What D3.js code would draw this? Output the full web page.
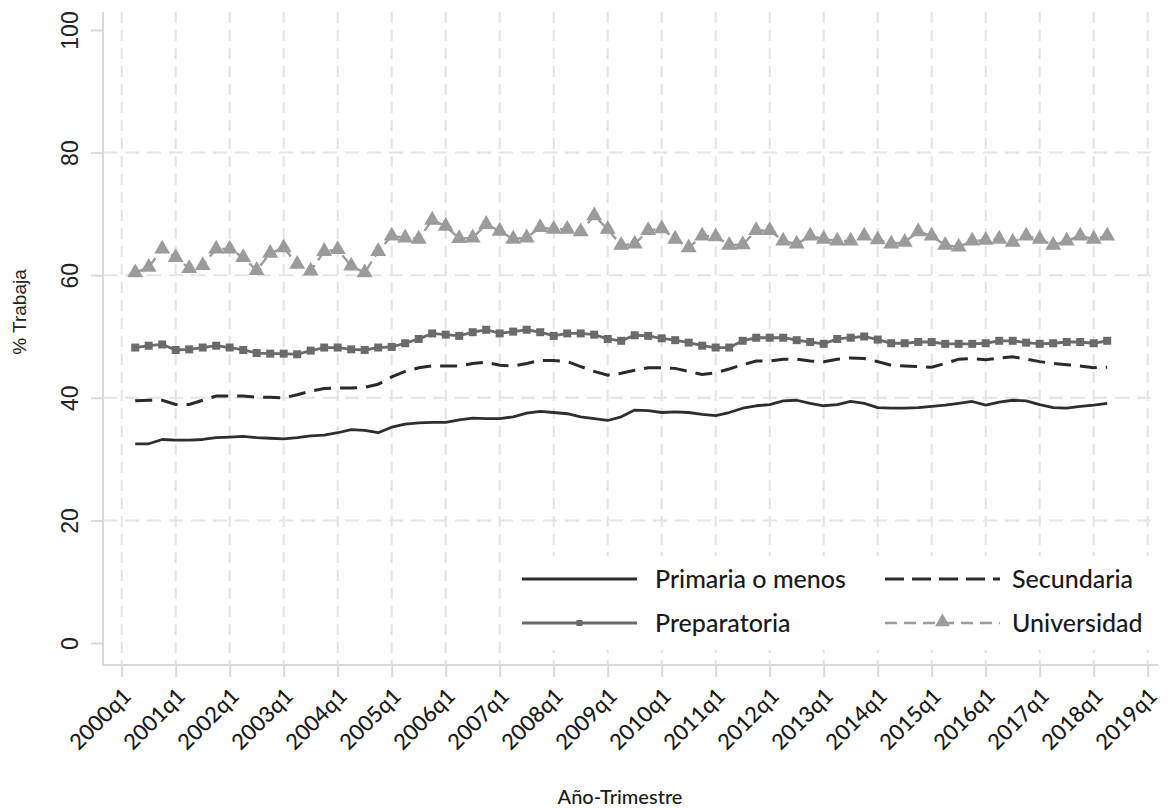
<!DOCTYPE html>
<html>
<head>
<meta charset="utf-8">
<script src="https://cdn.jsdelivr.net/npm/d3@7/dist/d3.min.js"></script>
<style>
  html, body { margin: 0; padding: 0; background: #fff; }
  svg { display: block; }
</style>
</head>
<body>
<svg id="chart" width="1168" height="809"></svg>
<script>
// ---------- DATA (quarterly, 2000q2 .. 2018q2) ----------
const startYear = 2000;
const startQuarter = 2;
const primaria = [
  32.5, 32.5, 33.2, 33.1, 33.1, 33.2, 33.5, 33.6, 33.7, 33.5, 33.4, 33.3, 33.5, 33.8, 33.9, 34.3, 34.8, 34.7, 34.3,
  35.2, 35.7, 35.9, 36.0, 36.0, 36.4, 36.7, 36.6, 36.6, 36.9, 37.5, 37.8, 37.6, 37.4, 36.9, 36.6, 36.3,
  36.9, 38.0, 37.9, 37.6, 37.7, 37.6, 37.3, 37.1, 37.6, 38.3, 38.7, 38.9, 39.5, 39.6, 39.1, 38.7, 38.9, 39.4,
  39.1, 38.4, 38.3, 38.3, 38.4, 38.6, 38.8, 39.1, 39.4, 38.8, 39.3, 39.6, 39.5, 38.9, 38.4, 38.3, 38.6, 38.8, 39.1
];
const secundaria = [
  39.5, 39.6, 39.6, 38.9, 38.9, 39.6, 40.3, 40.3, 40.3, 40.1, 40.1, 40.0, 40.5, 41.1, 41.5, 41.6, 41.6, 41.7, 42.2,
  43.4, 44.3, 44.9, 45.2, 45.2, 45.2, 45.6, 45.8, 45.3, 45.2, 45.6, 46.1, 46.1, 45.9, 45.1, 44.3, 43.7,
  44.0, 44.5, 44.9, 44.9, 44.8, 44.3, 43.8, 44.1, 44.7, 45.4, 46.0, 46.0, 46.3, 46.3, 46.0, 45.9, 46.3, 46.5,
  46.4, 45.9, 45.3, 45.2, 45.1, 45.0, 45.6, 46.3, 46.4, 46.2, 46.5, 46.7, 46.3, 45.9, 45.6, 45.4, 45.2, 44.9, 45.0
];
const preparatoria = [
  48.2, 48.5, 48.7, 47.8, 47.9, 48.2, 48.5, 48.2, 47.8, 47.3, 47.2, 47.2, 47.1, 47.7, 48.2, 48.2, 47.9, 47.8, 48.2,
  48.3, 48.9, 49.6, 50.5, 50.3, 50.1, 50.7, 51.1, 50.5, 50.8, 51.1, 50.7, 50.1, 50.5, 50.5, 50.3, 49.6,
  49.3, 50.2, 50.1, 49.7, 49.4, 49.0, 48.5, 48.2, 48.2, 49.3, 49.8, 49.8, 49.8, 49.4, 49.1, 48.8, 49.6, 49.8,
  50.0, 49.5, 48.9, 48.9, 49.1, 49.1, 48.8, 48.8, 48.8, 48.9, 49.3, 49.3, 49.0, 48.8, 48.9, 49.1, 49.1, 48.9, 49.3
];
const universidad = [
  60.4, 61.3, 64.3, 62.9, 61.1, 61.6, 64.3, 64.3, 62.9, 60.8, 63.6, 64.5, 61.8, 60.7, 63.9, 64.2, 61.5, 60.4, 63.9,
  66.4, 66.1, 65.9, 69.0, 68.0, 66.0, 66.1, 68.3, 67.2, 65.9, 66.1, 67.8, 67.5, 67.5, 67.1, 69.7, 67.5,
  64.9, 65.1, 67.3, 67.6, 65.9, 64.5, 66.4, 66.3, 64.9, 65.0, 67.3, 67.3, 65.6, 65.1, 66.4, 65.9, 65.6, 65.6,
  66.4, 65.8, 65.1, 65.4, 67.1, 66.4, 64.9, 64.6, 65.6, 65.7, 65.9, 65.4, 66.4, 65.9, 64.9, 65.6, 66.4, 65.9, 66.4
];
const xTickLabels = ["2000q1","2001q1","2002q1","2003q1","2004q1","2005q1","2006q1","2007q1","2008q1","2009q1",
  "2010q1","2011q1","2012q1","2013q1","2014q1","2015q1","2016q1","2017q1","2018q1","2019q1"];
const yTicks = [0, 20, 40, 60, 80, 100];
const seriesNames = ["Primaria o menos", "Secundaria", "Preparatoria", "Universidad"];
const xTitle = "Año-Trimestre";
const yTitle = "% Trabaja";

// ---------- LAYOUT ----------
const svg = d3.select("#chart");
const axisColor = "#d9d9d9";
const gridColor = "#e3e3e3";
const plotLeft = 103, plotRight = 1158, plotTop = 12, plotBottom = 665;

// quarter index: 0 = 2000q1
const qIndex = (i) => (startQuarter - 1) + i;
const x = d3.scaleLinear().domain([0, 76]).range([121.7, 1147.7]);
const y = d3.scaleLinear().domain([0, 100]).range([643, 30]);

// gridlines
const gGrid = svg.append("g");
xTickLabels.forEach((lab, k) => {
  gGrid.append("line")
    .attr("x1", x(k * 4)).attr("x2", x(k * 4))
    .attr("y1", plotTop).attr("y2", plotBottom)
    .attr("stroke", gridColor).attr("stroke-width", 2).attr("stroke-dasharray", "11,7");
});
[20, 40, 60, 80].forEach(v => {
  gGrid.append("line")
    .attr("x1", plotLeft).attr("x2", plotRight)
    .attr("y1", y(v)).attr("y2", y(v))
    .attr("stroke", gridColor).attr("stroke-width", 2).attr("stroke-dasharray", "14,8");
});

// axes
const xAxis = d3.axisBottom(x)
  .tickValues(xTickLabels.map((d, k) => k * 4))
  .tickFormat((d, k) => xTickLabels[k])
  .tickSize(12).tickPadding(6);
const gx = svg.append("g").attr("transform", `translate(0,${plotBottom})`).call(xAxis);
gx.select(".domain").attr("d", `M${plotLeft},0H${plotRight}`).attr("stroke", axisColor).attr("stroke-width", 2);
gx.selectAll(".tick line").attr("stroke", axisColor).attr("stroke-width", 2);
gx.selectAll(".tick text")
  .attr("font-family", "Lato, 'Open Sans', sans-serif").attr("font-size", 22).attr("font-weight", 500).attr("fill", "#1a1a1a")
  .attr("text-anchor", "end").attr("dy", "0.35em")
  .attr("transform", "translate(5,27) rotate(-45)").attr("y", 0).attr("x", 0);

const yAxis = d3.axisLeft(y).tickValues(yTicks).tickFormat(d3.format("d")).tickSize(12).tickPadding(10);
const gy = svg.append("g").attr("transform", `translate(${plotLeft},0)`).call(yAxis);
gy.select(".domain").attr("d", `M0,${plotTop}V${plotBottom}`).attr("stroke", axisColor).attr("stroke-width", 2);
gy.selectAll(".tick line").attr("stroke", axisColor).attr("stroke-width", 2);
gy.selectAll(".tick text")
  .attr("font-family", "'Liberation Sans', Arial, sans-serif").attr("font-size", 23).attr("fill", "#222")
  .attr("text-anchor", "middle").attr("x", 0).attr("dy", 0)
  .attr("transform", "translate(-25,0) rotate(-90)");

// titles
svg.append("text").attr("x", 620).attr("y", 804)
  .attr("text-anchor", "middle").attr("font-family", "Lato, 'Open Sans', sans-serif")
  .attr("font-size", 20).attr("font-weight", 500).attr("fill", "#1a1a1a").text(xTitle);
svg.append("text").attr("transform", "translate(26,312) rotate(-90)")
  .attr("text-anchor", "middle").attr("font-family", "'Liberation Sans', Arial, sans-serif")
  .attr("font-size", 19).attr("fill", "#222").text(yTitle);

// series
const line = d3.line().x((d, i) => x(qIndex(i))).y(d => y(d)).curve(d3.curveLinear);
const cPrim = "#2e2e2e", cSec = "#2a2a2a", cPrep = "#6a6a6a", cUni = "#9b9b9b";

const gS = svg.append("g");
gS.append("path").datum(primaria).attr("d", line)
  .attr("fill", "none").attr("stroke", cPrim).attr("stroke-width", 2.8).attr("stroke-linejoin", "round");
gS.append("path").datum(secundaria).attr("d", line)
  .attr("fill", "none").attr("stroke", cSec).attr("stroke-width", 3).attr("stroke-dasharray", "17,9");
gS.append("path").datum(preparatoria).attr("d", line)
  .attr("fill", "none").attr("stroke", cPrep).attr("stroke-width", 2.8);
gS.selectAll("rect.prep").data(preparatoria).join("rect").attr("class", "prep")
  .attr("x", (d, i) => x(qIndex(i)) - 4).attr("y", d => y(d) - 4)
  .attr("width", 8).attr("height", 8).attr("fill", cPrep);
gS.append("path").datum(universidad).attr("d", line)
  .attr("fill", "none").attr("stroke", cUni).attr("stroke-width", 2.4).attr("stroke-dasharray", "10,6");
const tri = d3.symbol().type(d3.symbolTriangle).size(110);
gS.selectAll("path.uni").data(universidad).join("path").attr("class", "uni")
  .attr("d", tri)
  .attr("transform", (d, i) => `translate(${x(qIndex(i))},${y(d)})`)
  .attr("fill", cUni);

// legend
const lg = svg.append("g");
lg.append("rect").attr("x", 508).attr("y", 556).attr("width", 652).attr("height", 94).attr("fill", "#fff");
const legendItems = [
  { name: seriesNames[0], col: 0, row: 0, color: cPrim, dash: null, marker: null, w: 2.8 },
  { name: seriesNames[1], col: 1, row: 0, color: cSec, dash: "19,8", marker: null, w: 3 },
  { name: seriesNames[2], col: 0, row: 1, color: cPrep, dash: null, marker: "square", w: 2.8 },
  { name: seriesNames[3], col: 1, row: 1, color: cUni, dash: "12,7", marker: "triangle", w: 2.4 }
];
const colX = [522, 885], textX = [655, 1012], rowY = [579, 623];
legendItems.forEach(it => {
  const x0 = colX[it.col], x1 = x0 + 115, yy = rowY[it.row];
  const l = lg.append("line").attr("x1", x0).attr("x2", x1).attr("y1", yy).attr("y2", yy)
    .attr("stroke", it.color).attr("stroke-width", it.w);
  if (it.dash) l.attr("stroke-dasharray", it.dash);
  if (it.marker === "square") {
    lg.append("rect").attr("x", (x0 + x1) / 2 - 3).attr("y", yy - 3).attr("width", 6).attr("height", 6).attr("fill", it.color);
  } else if (it.marker === "triangle") {
    lg.append("path").attr("d", d3.symbol().type(d3.symbolTriangle).size(95))
      .attr("transform", `translate(${(x0 + x1) / 2},${yy - 1})`).attr("fill", it.color);
  }
  lg.append("text").attr("x", textX[it.col]).attr("y", yy).attr("dy", "0.35em")
    .attr("font-family", "Lato, 'Open Sans', sans-serif").attr("font-size", 25).attr("font-weight", 500).attr("fill", "#1a1a1a")
    .text(it.name);
});
</script>
</body>
</html>
